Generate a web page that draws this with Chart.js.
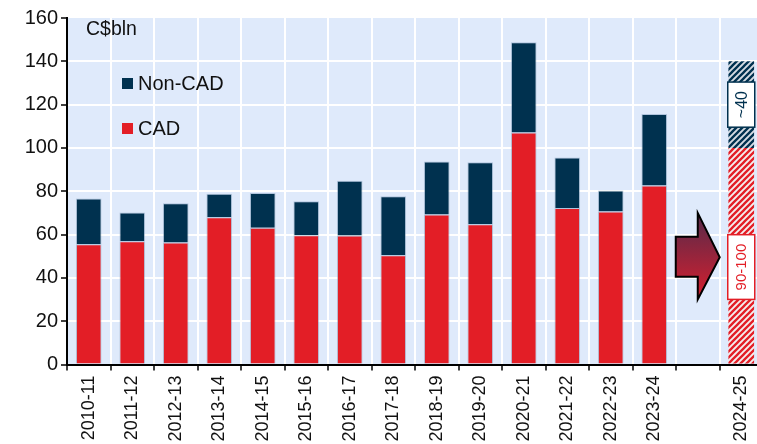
<!DOCTYPE html>
<html><head><meta charset="utf-8">
<script src="https://cdn.jsdelivr.net/npm/chart.js@4/dist/chart.umd.min.js"></script>
<style>
html,body{margin:0;padding:0;background:#fff;overflow:hidden;width:757px;height:444px;}
#wrap{position:absolute;left:0;top:0;width:770px;height:444px;}
</style></head><body>
<div id="wrap"><canvas id="c" width="770" height="444"></canvas></div>
<script>
// ---- data ----
const categories = ['2010-11','2011-12','2012-13','2013-14','2014-15','2015-16','2016-17','2017-18','2018-19','2019-20','2020-21','2021-22','2022-23','2023-24','','2024-25'];
const cadValues    = [55.5, 56.9, 56.3, 68.0, 63.2, 59.7, 59.6, 50.5, 69.3, 64.8, 107.1, 72.3, 70.6, 82.6, null, 100];
const nonCadValues = [21.1, 13.3, 18.2, 10.9, 16.0, 15.7, 25.2, 27.2, 24.4, 28.6, 41.7, 23.3, 9.7, 33.1, null, 40];
const seriesNames = ['CAD', 'Non-CAD'];
const unitLabel = 'C$bln';
const yMin = 0, yMax = 160, yStep = 20;
const forecastIndex = 15;           // 2024-25 (projection, hatched)
const rangeLabels = ['90-100', '~40'];
const rangeLabelValues = [45, 120];  // vertical centre of each label box (in C$bln)
const arrowCategory = 14;
const arrowValues = {tip: 49.5, shaftTop: 59, shaftBottom: 40.5, headTop: 70, headBottom: 30};

// ---- styles ----
const FONT = "'Liberation Sans', Arial, sans-serif";
const RED = '#e31e26';
const NAVY = '#00314f';
const PLOT_BG = '#dfeafb';
const EDGE = 'rgba(120,150,185,0.45)';

function makeHatch(fg, bg){
  const c = document.createElement('canvas'); c.width = 6; c.height = 6;
  const g = c.getContext('2d');
  g.fillStyle = bg; g.fillRect(0,0,6,6);
  g.strokeStyle = fg; g.lineWidth = 2.3;
  g.beginPath();
  g.moveTo(-1,7); g.lineTo(7,-1);
  g.moveTo(-1,1); g.lineTo(1,-1);
  g.moveTo(5,7); g.lineTo(7,5);
  g.stroke();
  return g.createPattern(c,'repeat');
}
const redHatch = makeHatch(RED, '#f4eeee');
const navyHatch = makeHatch(NAVY, '#d5dbe2');

const decor = {
  id: 'decor',
  beforeDraw(chart){
    const {ctx, chartArea:a} = chart;
    ctx.save();
    ctx.fillStyle = PLOT_BG;
    ctx.fillRect(a.left, a.top, a.right - a.left, a.bottom - a.top);
    ctx.restore();
  },
  afterDatasetsDraw(chart){
    const {ctx, chartArea:a, scales:{x, y}} = chart;
    ctx.save();
    // unit label
    ctx.fillStyle = '#111';
    ctx.font = '19.5px ' + FONT;
    ctx.textBaseline = 'middle';
    ctx.textAlign = 'left';
    ctx.fillText(unitLabel, a.left + 19, a.top + 12);
    // legend (top to bottom: Non-CAD, CAD)
    const legend = [[seriesNames[1], NAVY], [seriesNames[0], RED]];
    ctx.font = '20px ' + FONT;
    legend.forEach(([name, col], i) => {
      const cy = a.top + 65 + i * 45;
      ctx.fillStyle = col;
      ctx.fillRect(a.left + 55, cy - 5, 11, 11);
      ctx.fillStyle = '#111';
      ctx.fillText(name, a.left + 71, cy + 1);
    });
    // arrow
    const cx = x.getPixelForValue(arrowCategory);
    const yTip = y.getPixelForValue(arrowValues.tip);
    const ySt = y.getPixelForValue(arrowValues.shaftTop);
    const ySb = y.getPixelForValue(arrowValues.shaftBottom);
    const yHt = y.getPixelForValue(arrowValues.headTop);
    const yHb = y.getPixelForValue(arrowValues.headBottom);
    const grad = ctx.createLinearGradient(0, yHt, 0, yHb);
    grad.addColorStop(0, '#552a4a');
    grad.addColorStop(1, '#d81f2e');
    ctx.beginPath();
    ctx.moveTo(cx - 22, ySt);
    ctx.lineTo(cx, ySt);
    ctx.lineTo(cx, yHt);
    ctx.lineTo(cx + 22, yTip);
    ctx.lineTo(cx, yHb);
    ctx.lineTo(cx, ySb);
    ctx.lineTo(cx - 22, ySb);
    ctx.closePath();
    ctx.fillStyle = grad; ctx.fill();
    ctx.lineWidth = 2; ctx.strokeStyle = '#000'; ctx.lineJoin = 'miter'; ctx.stroke();
    // range label boxes on forecast bar
    const bx = x.getPixelForValue(forecastIndex);
    const cols = [RED, NAVY];
    rangeLabels.forEach((txt, i) => {
      const fs = i === 0 ? 15 : 16;
      ctx.font = fs + 'px ' + FONT;
      const tw = ctx.measureText(txt).width;
      const h = tw + 18, w = 27;
      const cy = y.getPixelForValue(rangeLabelValues[i]);
      ctx.fillStyle = '#fff';
      ctx.fillRect(bx - w/2, cy - h/2, w, h);
      ctx.lineWidth = 1.5; ctx.strokeStyle = cols[i];
      ctx.strokeRect(bx - w/2, cy - h/2, w, h);
      ctx.save();
      ctx.translate(bx, cy);
      ctx.rotate(-Math.PI/2);
      ctx.fillStyle = cols[i];
      ctx.textAlign = 'center'; ctx.textBaseline = 'middle';
      ctx.fillText(txt, 0, 1);
      ctx.restore();
    });
    ctx.restore();
  }
};

const lastIdx = forecastIndex;
new Chart(document.getElementById('c'), {
  type: 'bar',
  data: {
    labels: categories,
    datasets: [
      { label: seriesNames[0], data: cadValues,
        backgroundColor: c => c.dataIndex === lastIdx ? redHatch : RED,
        borderColor: EDGE,
        borderWidth: c => c.dataIndex === lastIdx ? 0 : {top: 1, left: 1, right: 1, bottom: 0},
        borderSkipped: false },
      { label: seriesNames[1], data: nonCadValues,
        backgroundColor: c => c.dataIndex === lastIdx ? navyHatch : NAVY,
        borderColor: EDGE,
        borderWidth: c => c.dataIndex === lastIdx ? 0 : {top: 1, left: 1, right: 1, bottom: 0},
        borderSkipped: false }
    ]
  },
  options: {
    responsive: false, devicePixelRatio: 1, animation: false,
    layout: { padding: { top: 18, right: 7, left: 0, bottom: 0 } },
    datasets: { bar: { categoryPercentage: 1, barPercentage: 0.59 } },
    plugins: { legend: { display: false }, tooltip: { enabled: false } },
    scales: {
      x: {
        stacked: true, offset: true,
        grid: { offset: true, color: '#fff', lineWidth: 2, tickColor: '#000', tickLength: 6, tickWidth: 1.5 },
        border: { color: '#000', width: 2 },
        ticks: { color: '#111', font: { family: FONT, size: 18 }, minRotation: 90, maxRotation: 90, autoSkip: false, padding: 5 },
        afterFit(s){ s.height = 79.5; }
      },
      y: {
        stacked: true, min: yMin, max: yMax,
        ticks: { stepSize: yStep, color: '#111', font: { family: FONT, size: 20 }, padding: 3 },
        grid: { color: c => (c.tick && c.tick.value === yMax) ? 'rgba(0,0,0,0)' : '#fff', lineWidth: 2, tickColor: '#000', tickLength: 6, tickWidth: 1.5 },
        border: { color: '#000', width: 2 },
        afterFit(s){ s.width = 67; }
      }
    }
  },
  plugins: [decor]
});
</script>
</body></html>
